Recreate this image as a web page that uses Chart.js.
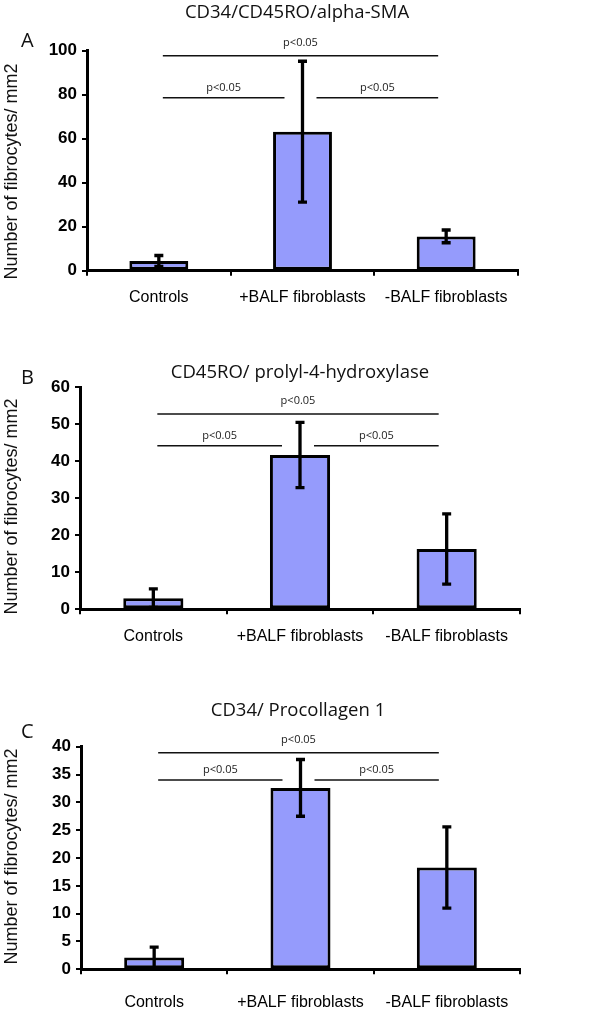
<!DOCTYPE html>
<html>
<head>
<meta charset="utf-8">
<script src="https://cdn.jsdelivr.net/npm/chart.js@4.4.1/dist/chart.umd.min.js"></script>
<style>
html,body{margin:0;padding:0;background:#fff;width:600px;height:1013px;overflow:hidden}
canvas{position:absolute;left:0;display:block}
</style>
</head>
<body>
<canvas id="cA"></canvas>
<canvas id="cB"></canvas>
<canvas id="cC"></canvas>
<script>
// ---------- data ----------
const categories = ['Controls', '+BALF fibroblasts', '-BALF fibroblasts'];
const panelLetters = ['A', 'B', 'C'];
const panelTitles = ['CD34/CD45RO/alpha-SMA', 'CD45RO/ prolyl-4-hydroxylase', 'CD34/ Procollagen 1'];
const yAxisTitle = 'Number of fibrocytes/ mm2';
const pLabel = 'p<0.05';

const meansA = [4.4, 63.2, 15.6];
const errorsA = [2.5, 32.0, 2.9];
const meansB = [3.0, 41.7, 16.3];
const errorsB = [2.5, 8.8, 9.5];
const meansC = [2.1, 32.6, 18.3];
const errorsC = [1.9, 5.1, 7.3];

const yMaxes = [100, 60, 40];
const ySteps = [20, 10, 5];

// significance brackets: [fromCategory, toCategory, level]
const sigA = [[0, 2, 97.7], [0, 1, 78.6], [1, 2, 78.6]];
const sigB = [[0, 2, 52.8], [0, 1, 44.2], [1, 2, 44.2]];
const sigC = [[0, 2, 38.9], [0, 1, 34.0], [1, 2, 34.0]];

const panelMeans = [meansA, meansB, meansC];
const panelErrors = [errorsA, errorsB, errorsC];
const panelSig = [sigA, sigB, sigC];

// ---------- layout / style ----------
const layouts = [
  {id:'cA', top:0,   h:330, L:87, R:518, T:50.7, B:270.7, xPad:12,   titleX:297, titleY:17.5, letterY:46.5, yTitleY:171.5},
  {id:'cB', top:330, h:330, L:80, R:520, T:57.3, B:279.3, xPad:12.5, titleX:300, titleY:48,   letterY:53.5, yTitleY:176.5},
  {id:'cC', top:660, h:353, L:81, R:520, T:86.7, B:309.3, xPad:19,   titleX:298, titleY:56,   letterY:77.5, yTitleY:196.5}
];
const ARIAL = '"Liberation Sans", Arial, Helvetica, sans-serif';
const HUMAN = '"Open Sans", "Noto Sans", sans-serif';
const BAR_FILL = '#959BFC';

const overlay = {
  id: 'overlay',
  afterDatasetsDraw(chart, args, opts) {
    const p = opts.panel;
    const lay = layouts[p];
    const {ctx} = chart;
    const x = chart.scales.x, y = chart.scales.y;
    const meta = chart.getDatasetMeta(0);
    const means = panelMeans[p], errs = panelErrors[p];
    ctx.save();
    // error bars
    ctx.strokeStyle = '#000';
    ctx.lineWidth = 3.3;
    ctx.lineCap = 'butt';
    meta.data.forEach((bar, i) => {
      const cx = bar.x;
      const yt = y.getPixelForValue(means[i] + errs[i]);
      const yb = y.getPixelForValue(Math.max(0, means[i] - errs[i]));
      ctx.beginPath();
      ctx.moveTo(cx, yt); ctx.lineTo(cx, yb);
      ctx.moveTo(cx - 4.5, yt); ctx.lineTo(cx + 4.5, yt);
      ctx.moveTo(cx - 4.5, yb); ctx.lineTo(cx + 4.5, yb);
      ctx.stroke();
    });
    // significance lines
    ctx.lineWidth = 1.5;
    ctx.strokeStyle = '#111';
    ctx.fillStyle = '#222';
    ctx.font = '11px ' + HUMAN;
    ctx.textAlign = 'center';
    ctx.textBaseline = 'alphabetic';
    panelSig[p].forEach(([a, b, lvl]) => {
      const x0 = x.getPixelForValue(a) + (a === 0 ? 4 : 14);
      const x1 = x.getPixelForValue(b) - (b === 1 ? 18 : 8);
      const yy = y.getPixelForValue(lvl);
      ctx.beginPath();
      ctx.moveTo(x0, yy); ctx.lineTo(x1, yy);
      ctx.stroke();
      ctx.fillText(pLabel, (x0 + x1) / 2, yy - (b - a === 2 ? 10 : 7));
    });
    // title
    ctx.fillStyle = '#111';
    ctx.font = '18.5px ' + HUMAN;
    ctx.textAlign = 'center';
    ctx.fillText(panelTitles[p], lay.titleX, lay.titleY);
    // panel letter
    ctx.font = '20px ' + HUMAN;
    ctx.textAlign = 'left';
    ctx.fillText(panelLetters[p], 21, lay.letterY);
    // y axis title
    ctx.save();
    ctx.translate(17, lay.yTitleY);
    ctx.rotate(-Math.PI / 2);
    ctx.font = '18px ' + ARIAL;
    ctx.textAlign = 'center';
    ctx.fillStyle = '#111';
    ctx.fillText(yAxisTitle, 0, 0);
    ctx.restore();
    ctx.restore();
  }
};

function build() {
  layouts.forEach((lay, p) => {
    const cv = document.getElementById(lay.id);
    cv.width = 600; cv.height = lay.h;
    cv.style.top = lay.top + 'px';
    cv.style.width = '600px'; cv.style.height = lay.h + 'px';
    new Chart(cv, {
      type: 'bar',
      data: {
        labels: categories,
        datasets: [{
          data: panelMeans[p],
          backgroundColor: BAR_FILL,
          borderColor: '#000',
          borderWidth: 3,
          borderSkipped: false,
          barPercentage: 0.41,
          categoryPercentage: 1
        }]
      },
      options: {
        responsive: false,
        animation: false,
        events: [],
        devicePixelRatio: 1,
        layout: {padding: {top: lay.T, right: 600 - lay.R, left: 0, bottom: 0}},
        plugins: {legend: {display: false}, tooltip: {enabled: false}, title: {display: false}, overlay: {panel: p}},
        scales: {
          x: {
            type: 'category',
            offset: true,
            grid: {display: true, drawOnChartArea: false, drawTicks: true, tickLength: 5, color: '#000', lineWidth: 2, offset: true},
            border: {display: true, color: '#000', width: 3},
            ticks: {color: '#000', font: {family: ARIAL, size: 16}, padding: lay.xPad, maxRotation: 0, autoSkip: false},
            afterFit(s) { s.height = lay.h - lay.B; }
          },
          y: {
            min: 0, max: yMaxes[p],
            ticks: {stepSize: ySteps[p], color: '#000', font: {family: ARIAL, size: 17, weight: 'bold'}, padding: 5},
            grid: {display: true, drawOnChartArea: false, drawTicks: true, tickLength: 5, color: '#000', lineWidth: 2},
            border: {display: true, color: '#000', width: 3},
            afterFit(s) { s.width = lay.L; }
          }
        }
      },
      plugins: [overlay]
    });
  });
}

const fontLoads = [
  document.fonts.load('18px "Open Sans"'),
  document.fonts.load('16px "Liberation Sans"'),
  document.fonts.load('bold 16px "Liberation Sans"')
];
Promise.all(fontLoads).then(build, build);
</script>
</body>
</html>
